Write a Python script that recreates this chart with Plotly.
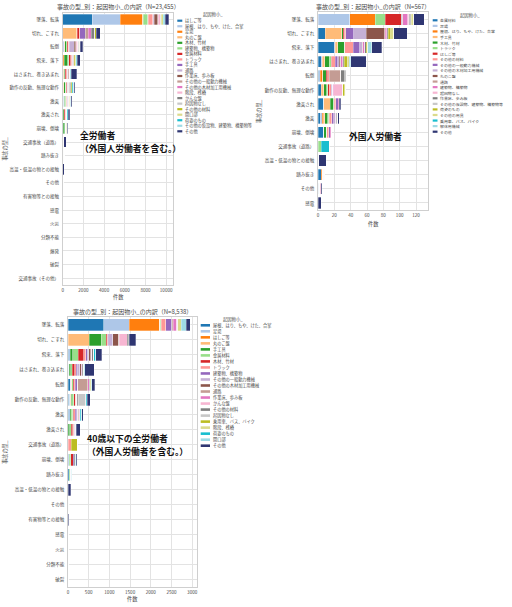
import plotly.graph_objects as go

W, H = 512, 607
FONT = "Noto Sans CJK JP"

# ---------------- Chart 1: all workers ----------------
ALL_TITLE = "事故の型_別：起因物小_の内訳（N=23,455）"
ALL_CATEGORIES = ["墜落、転落", "切れ、こすれ", "転倒", "飛来、落下", "はさまれ、巻き込まれ",
                  "動作の反動、無理な動作", "激突", "激突され", "崩壊、倒壊", "交通事故（道路）",
                  "踏み抜き", "高温・低温の物との接触", "その他", "有害物等との接触", "感電",
                  "火災", "分類不能", "爆発", "破裂", "交通事故（その他）"]
ALL_CAUSES = ["はしご等", "屋根、はり、もや、けた、合掌", "足場", "丸のこ盤", "木材、竹材",
              "建築物、構築物", "金属材料", "トラック", "手工具", "通路", "作業床、歩み板",
              "その他の一般動力機械", "その他の木材加工用機械", "階段、桟橋", "かんな盤",
              "起因物なし", "その他の材料", "開口部", "荷姿のもの",
              "その他の仮設物、建築物、構築物等", "その他"]
ALL_VALUES = [
    [2860, 0, 50, 10, 20, 30, 30, 10, 10, 0, 0, 0, 0, 0, 0, 0, 0, 0, 0, 0],
    [2680, 0, 100, 60, 20, 30, 50, 10, 10, 0, 40, 0, 0, 0, 0, 0, 0, 0, 0, 0],
    [2190, 0, 50, 80, 30, 40, 70, 20, 40, 0, 0, 0, 0, 0, 0, 0, 0, 0, 0, 0],
    [10, 1350, 20, 20, 30, 20, 10, 10, 0, 0, 0, 0, 0, 0, 0, 0, 0, 0, 0, 0],
    [60, 40, 120, 330, 100, 120, 60, 90, 120, 0, 20, 0, 0, 0, 0, 0, 0, 0, 0, 0],
    [430, 20, 100, 80, 40, 50, 90, 30, 60, 0, 20, 0, 0, 0, 5, 0, 0, 0, 0, 0],
    [30, 220, 100, 200, 90, 100, 50, 80, 50, 0, 40, 10, 0, 0, 0, 0, 0, 0, 0, 0],
    [450, 0, 60, 80, 130, 40, 40, 60, 10, 120, 0, 0, 0, 0, 0, 0, 0, 0, 0, 0],
    [40, 550, 40, 80, 30, 60, 30, 20, 0, 0, 0, 0, 0, 0, 0, 0, 0, 0, 0, 0],
    [100, 20, 480, 10, 10, 20, 40, 10, 0, 0, 0, 0, 0, 0, 0, 0, 0, 0, 0, 0],
    [320, 20, 150, 50, 20, 40, 50, 10, 10, 0, 20, 0, 0, 0, 0, 0, 0, 0, 0, 0],
    [60, 250, 30, 60, 110, 30, 20, 40, 0, 0, 0, 0, 0, 0, 0, 0, 0, 0, 0, 0],
    [10, 300, 10, 40, 40, 10, 10, 10, 0, 0, 0, 0, 0, 0, 0, 0, 0, 0, 0, 0],
    [200, 10, 150, 10, 10, 30, 40, 0, 0, 0, 0, 0, 0, 0, 0, 0, 0, 0, 0, 0],
    [0, 280, 0, 10, 10, 0, 0, 0, 0, 0, 0, 0, 0, 0, 0, 0, 0, 0, 0, 0],
    [50, 40, 100, 20, 10, 200, 30, 10, 10, 0, 0, 0, 40, 0, 0, 0, 5, 0, 0, 0],
    [50, 120, 60, 120, 40, 80, 40, 50, 60, 0, 0, 0, 0, 0, 0, 0, 0, 0, 0, 0],
    [200, 0, 10, 0, 0, 0, 10, 0, 0, 0, 10, 0, 0, 0, 0, 0, 0, 0, 0, 0],
    [30, 20, 20, 110, 60, 120, 40, 60, 40, 0, 0, 0, 0, 0, 0, 0, 0, 0, 0, 0],
    [150, 10, 30, 60, 30, 30, 50, 20, 30, 0, 0, 0, 0, 0, 0, 0, 0, 0, 0, 0],
    [320, 380, 250, 270, 520, 110, 110, 130, 30, 230, 10, 150, 30, 20, 10, 5, 0, 3, 3, 3],
]
ALL_NOTE = ["全労働者", "（外国人労働者を含む。）"]

# ---------------- Chart 2: foreign workers ----------------
FOR_TITLE = "事故の型_別：起因物小_の内訳（N=567）"
FOR_CATEGORIES = ["墜落、転落", "切れ、こすれ", "飛来、落下", "はさまれ、巻き込まれ", "転倒",
                  "動作の反動、無理な動作", "激突され", "激突", "崩壊、倒壊", "交通事故（道路）",
                  "高温・低温の物との接触", "踏み抜き", "その他", "感電"]
FOR_CAUSES = ["金属材料", "足場", "屋根、はり、もや、けた、合掌", "手工具", "木材、竹材",
              "トラック", "はしご等", "その他の材料", "その他の一般動力機械",
              "その他の木材加工用機械", "丸のこ盤", "通路", "建築物、構築物", "起因物なし",
              "作業床、歩み板", "その他の仮設物、建築物、構築物等", "荷姿のもの", "その他の用具",
              "乗用車、バス、バイク", "解体用機械", "その他"]
FOR_VALUES = [
    [0, 9, 20, 4, 1, 4, 7, 3, 7, 0, 0, 4, 0, 0],
    [39, 0, 1, 1, 2, 0, 0, 2, 0, 0, 0, 0, 1, 0],
    [31, 0, 0, 1, 3, 0, 0, 2, 0, 0, 0, 2, 0, 0],
    [0, 20, 3, 2, 0, 3, 8, 1, 0, 0, 0, 0, 1, 0],
    [0, 2, 9, 6, 4, 4, 4, 4, 3, 0, 0, 0, 0, 0],
    [12, 0, 0, 2, 0, 1, 0, 1, 1, 4, 0, 0, 0, 0],
    [20, 1, 0, 1, 2, 2, 1, 1, 0, 0, 1, 0, 0, 0],
    [0, 2, 10, 4, 2, 2, 2, 3, 2, 0, 0, 1, 0, 0],
    [0, 10, 8, 3, 0, 1, 3, 2, 2, 0, 0, 0, 0, 0],
    [1, 15, 3, 2, 0, 1, 0, 2, 0, 0, 0, 0, 1, 0],
    [0, 22, 1, 1, 0, 0, 0, 0, 0, 0, 0, 0, 0, 0],
    [1, 1, 0, 1, 14, 0, 0, 0, 0, 0, 0, 1, 0, 0],
    [6, 2, 2, 2, 0, 1, 1, 1, 1, 0, 0, 0, 0, 0],
    [1, 1, 0, 1, 0, 11, 0, 0, 0, 0, 0, 0, 1, 0],
    [1, 1, 2, 1, 5, 0, 0, 1, 0, 0, 0, 0, 0, 0],
    [2, 0, 0, 0, 2, 0, 0, 1, 0, 0, 0, 0, 0, 0],
    [1, 3, 2, 4, 0, 3, 0, 0, 0, 0, 0, 0, 0, 0],
    [2, 4, 0, 2, 0, 1, 0, 0, 0, 0, 0, 0, 0, 0],
    [0, 0, 0, 0, 0, 0, 0, 0, 0, 10, 0, 0, 0, 0],
    [0, 0, 5, 2, 0, 0, 0, 0, 0, 0, 0, 0, 0, 0],
    [13, 16, 12, 19, 1, 0, 2, 2, 0, 0, 9, 0, 1, 4],
]
FOR_NOTE = ["外国人労働者"]

# ---------------- Chart 3: workers aged 40 or under ----------------
U40_TITLE = "事故の型_別：起因物小_の内訳（N=8,538）"
U40_CATEGORIES = ["墜落、転落", "切れ、こすれ", "飛来、落下", "はさまれ、巻き込まれ", "転倒",
                  "動作の反動、無理な動作", "激突", "激突され", "交通事故（道路）", "崩壊、倒壊",
                  "踏み抜き", "高温・低温の物との接触", "その他", "有害物等との接触", "感電",
                  "火災", "分類不能", "破裂"]
U40_CAUSES = ["屋根、はり、もや、けた、合掌", "足場", "はしご等", "丸のこ盤", "手工具",
              "金属材料", "木材、竹材", "トラック", "建築物、構築物", "その他の一般動力機械",
              "その他の木材加工用機械", "通路", "作業床、歩み板", "かんな盤", "その他の材料",
              "起因物なし", "乗用車、バス、バイク", "階段、桟橋", "荷姿のもの", "開口部", "その他"]
U40_VALUES = [
    [860, 0, 20, 10, 50, 20, 20, 5, 0, 10, 30, 0, 0, 0, 0, 0, 0, 0],
    [620, 0, 40, 5, 20, 20, 30, 0, 0, 20, 0, 0, 0, 0, 0, 0, 0, 0],
    [725, 0, 0, 0, 15, 20, 10, 0, 0, 0, 0, 0, 0, 0, 0, 0, 0, 0],
    [5, 515, 0, 20, 0, 5, 0, 0, 0, 0, 0, 0, 0, 0, 0, 0, 0, 0],
    [5, 290, 50, 30, 10, 30, 20, 40, 0, 0, 0, 0, 0, 0, 0, 0, 0, 0],
    [20, 120, 140, 40, 30, 40, 30, 30, 0, 40, 20, 5, 0, 0, 0, 0, 0, 0],
    [20, 30, 135, 60, 30, 40, 30, 40, 0, 60, 0, 0, 0, 0, 0, 0, 0, 0],
    [105, 10, 40, 30, 20, 10, 30, 20, 80, 0, 0, 0, 0, 0, 0, 0, 0, 0],
    [135, 20, 40, 30, 50, 20, 40, 10, 0, 20, 20, 0, 0, 0, 3, 0, 0, 0],
    [20, 100, 40, 60, 10, 10, 20, 20, 0, 0, 0, 0, 0, 0, 0, 0, 0, 0],
    [0, 135, 40, 30, 5, 0, 10, 10, 0, 0, 0, 0, 0, 0, 0, 0, 0, 0],
    [30, 10, 20, 10, 240, 0, 20, 0, 0, 0, 0, 0, 0, 0, 0, 0, 0, 0],
    [80, 10, 10, 10, 30, 10, 20, 0, 0, 0, 10, 0, 0, 0, 0, 0, 0, 0],
    [0, 185, 0, 10, 0, 0, 0, 0, 0, 0, 0, 0, 0, 0, 0, 0, 0, 0],
    [10, 40, 40, 20, 10, 20, 10, 10, 0, 20, 0, 0, 0, 0, 0, 0, 0, 0],
    [10, 10, 10, 10, 20, 180, 10, 0, 0, 0, 0, 0, 15, 0, 0, 0, 3, 0],
    [5, 0, 0, 0, 0, 0, 0, 0, 140, 0, 0, 0, 0, 0, 0, 0, 0, 0],
    [80, 0, 0, 0, 20, 10, 0, 0, 0, 0, 0, 0, 0, 0, 0, 0, 0, 0],
    [10, 10, 50, 30, 10, 30, 20, 20, 0, 20, 0, 0, 0, 0, 0, 0, 0, 0],
    [120, 0, 0, 0, 0, 0, 10, 0, 0, 0, 10, 0, 0, 0, 0, 0, 0, 0],
    [90, 150, 140, 230, 70, 70, 40, 90, 0, 20, 0, 60, 10, 20, 7, 3, 0, 2],
]
U40_NOTE = ["40歳以下の全労働者", "（外国人労働者を含む。）"]

LEGEND_TITLE = "起因物小_"
X_LABEL = "件数"
Y_LABEL = "事故の型_"

PALETTE = ["#1f77b4", "#aec7e8", "#ff7f0e", "#ffbb78", "#2ca02c", "#98df8a", "#d62728",
           "#ff9896", "#9467bd", "#c5b0d5", "#8c564b", "#c49c94", "#e377c2", "#f7b6d2",
           "#7f7f7f", "#c7c7c7", "#bcbd22", "#dbdb8d", "#17becf", "#9edae5", "#2f3672"]


def fx(x):
    return x / W


def fy(y):
    return 1 - y / H


charts = [
    dict(title=ALL_TITLE, cats=ALL_CATEGORIES, causes=ALL_CAUSES, vals=ALL_VALUES,
         note=ALL_NOTE, note_x=79, note_y=[135.6, 148.6], note_anchor="left",
         box=(62.7, 12.7, 173.3, 285.0), xmax=10690, dtick=2000,
         title_y=6, xlabel_y=297, ylabel_x=5,
         leg=dict(tx=212.7, ty=14.5, s0=177.3, s1=182.3, text=183.5, y0=20.7, dy=5.53,
                  sh=2.2, fs=4.2)),
    dict(title=FOR_TITLE, cats=FOR_CATEGORIES, causes=FOR_CAUSES, vals=FOR_VALUES,
         note=FOR_NOTE, note_x=375.5, note_y=[136.5], note_anchor="center",
         box=(318.0, 12.3, 428.3, 210.0), xmax=135, dtick=20,
         title_y=6, xlabel_y=223.5, ylabel_x=259,
         leg=dict(tx=470, ty=15, s0=432.7, s1=437.5, text=438.6, y0=20.3, dy=5.57,
                  sh=2.2, fs=3.95)),
    dict(title=U40_TITLE, cats=U40_CATEGORIES, causes=U40_CAUSES, vals=U40_VALUES,
         note=U40_NOTE, note_x=86, note_y=[438.5, 451.5], note_anchor="left",
         box=(68.0, 317.0, 197.3, 587.0), xmax=3123, dtick=500,
         title_y=311.5, xlabel_y=599, ylabel_x=5,
         leg=dict(tx=233.3, ty=319.3, s0=200.7, s1=210.0, text=211.5, y0=325.3, dy=6.02,
                  sh=2.6, fs=4.2)),
]

fig = go.Figure()
annotations = []
shapes = []
layout_axes = {}

GRID = "#e3e3e3"
SPINE = "#cfcfcf"
TXT = "#4a4a4a"

for k, ch in enumerate(charts):
    suffix = "" if k == 0 else str(k + 1)
    xa, ya = "x" + suffix, "y" + suffix
    for i, cause in enumerate(ch["causes"]):
        fig.add_trace(go.Bar(
            y=ch["cats"], x=ch["vals"][i], orientation="h", name=cause,
            marker=dict(color=PALETTE[i], line=dict(color="white", width=0.3)),
            xaxis=xa, yaxis=ya, showlegend=False,
        ))
    x0, y0, x1, y1 = ch["box"]
    n = len(ch["cats"])
    layout_axes["xaxis" + suffix] = dict(
        domain=[fx(x0), fx(x1)], range=[0, ch["xmax"]], tick0=0, dtick=ch["dtick"],
        tickformat="d",
        anchor=ya, showgrid=True, gridcolor=GRID, gridwidth=0.8, zeroline=False,
        showline=True, mirror=True, linecolor=SPINE, linewidth=0.8, ticks="",
        tickfont=dict(size=4.6, color=TXT, family=FONT), ticklabelstandoff=1,
    )
    layout_axes["yaxis" + suffix] = dict(
        domain=[fy(y1), fy(y0)], categoryorder="array", categoryarray=ch["cats"],
        range=[n - 0.5, -0.5], anchor=xa, showgrid=True, gridcolor=GRID, gridwidth=0.8,
        showline=True, mirror=True, linecolor=SPINE, linewidth=0.8, ticks="",
        tickfont=dict(size=4.5, color=TXT, family=FONT), ticklabelstandoff=2,
    )
    cx = (x0 + x1) / 2
    annotations.append(dict(text=ch["title"], x=fx(cx), y=fy(ch["title_y"]), xref="paper",
                            yref="paper", showarrow=False, xanchor="center", yanchor="middle",
                            font=dict(size=6, color=TXT, family=FONT)))
    annotations.append(dict(text=X_LABEL, x=fx(cx), y=fy(ch["xlabel_y"]), xref="paper",
                            yref="paper", showarrow=False, xanchor="center", yanchor="middle",
                            borderpad=0, font=dict(size=5.2, color=TXT, family=FONT)))
    annotations.append(dict(text=Y_LABEL, x=fx(ch["ylabel_x"]), y=fy((y0 + y1) / 2),
                            xref="paper", yref="paper", showarrow=False, textangle=-90,
                            xanchor="center", yanchor="middle",
                            font=dict(size=5.2, color=TXT, family=FONT)))
    for line, ny in zip(ch["note"], ch["note_y"]):
        annotations.append(dict(text="<b>" + line + "</b>", x=fx(ch["note_x"]), y=fy(ny),
                                xref="paper", yref="paper", showarrow=False,
                                xanchor=ch["note_anchor"], yanchor="middle", borderpad=0,
                                font=dict(size=8.8, color="#111111", family=FONT)))
    lg = ch["leg"]
    annotations.append(dict(text=LEGEND_TITLE, x=fx(lg["tx"]), y=fy(lg["ty"]), xref="paper",
                            yref="paper", showarrow=False, xanchor="center", yanchor="middle",
                            font=dict(size=4.3, color=TXT, family=FONT)))
    for i, cause in enumerate(ch["causes"]):
        yy = lg["y0"] + i * lg["dy"]
        shapes.append(dict(type="rect", xref="paper", yref="paper",
                           x0=fx(lg["s0"]), x1=fx(lg["s1"]),
                           y0=fy(yy + lg["sh"] / 2), y1=fy(yy - lg["sh"] / 2),
                           fillcolor=PALETTE[i], line=dict(width=0)))
        annotations.append(dict(text=cause, x=fx(lg["text"]), y=fy(yy), xref="paper",
                                yref="paper", showarrow=False, xanchor="left",
                                yanchor="middle", borderpad=0,
                                font=dict(size=lg["fs"], color=TXT, family=FONT)))

fig.update_layout(
    width=W, height=H, autosize=False,
    margin=dict(l=0, r=0, t=0, b=0),
    paper_bgcolor="white", plot_bgcolor="white",
    barmode="stack", bargap=0.2,
    font=dict(family=FONT, color=TXT),
    annotations=annotations, shapes=shapes,
    **layout_axes,
)

fig.write_html("out.html", config={"displayModeBar": False},
               post_script="document.body.style.margin='0px';")
